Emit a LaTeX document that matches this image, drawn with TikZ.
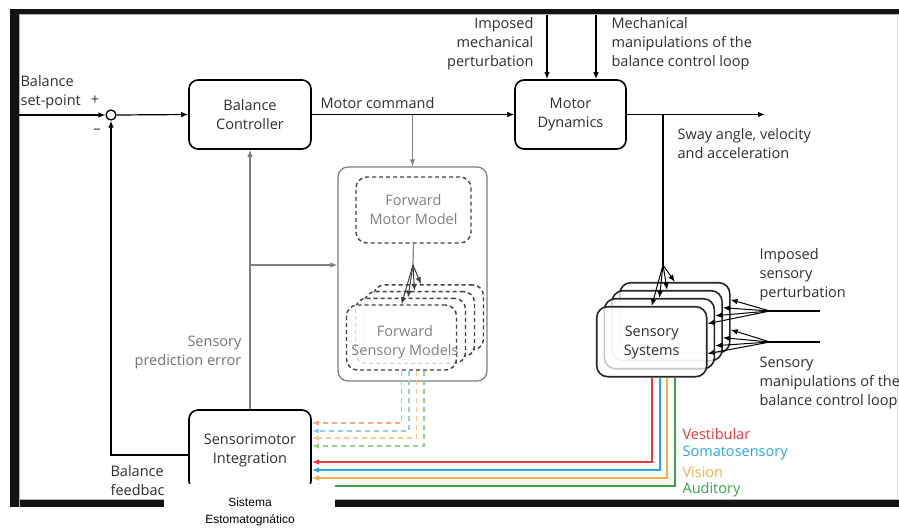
\documentclass[tikz,border=0pt]{standalone}
\usepackage{fontspec}
\setmainfont{Open Sans}
\newfontfamily\arialfont{Liberation Sans}
\usetikzlibrary{arrows.meta}

\definecolor{txtgray}{HTML}{2E2E2E}
\definecolor{fwdgray}{HTML}{808080}
\definecolor{vestred}{HTML}{E8383D}
\definecolor{somablue}{HTML}{2AA6E0}
\definecolor{visorange}{HTML}{F9AE4A}
\definecolor{audgreen}{HTML}{3BA449}
\definecolor{vestlight}{HTML}{F7A68A}
\definecolor{somalight}{HTML}{9CCBEE}
\definecolor{vislight}{HTML}{FBCB8C}
\definecolor{audlight}{HTML}{9ACB96}

\begin{document}
\begin{tikzpicture}[
  x=1pt, y=-1pt,
  font=\fontsize{14.5}{19}\selectfont,
  >={Latex[length=7pt,width=5.5pt]},
  line width=1.2pt,
  every node/.style={text=txtgray},
  block/.style={draw, rounded corners=9pt, line width=1.6pt, align=center, inner sep=0pt},
  lbl/.style={inner sep=0pt, align=left},
  fsmbox/.style={draw=black!75, rounded corners=11pt, line width=1.4pt, dash pattern=on 4pt off 3pt,
    fill=white, fill opacity=0.8, minimum width=110pt, minimum height=65pt},
  ssbox/.style={draw=black!85, rounded corners=11pt, line width=1.6pt,
    fill=white, fill opacity=0.75, minimum width=110pt, minimum height=70pt},
  sensline/.style={line width=1.8pt},
  predline/.style={line width=1.4pt, dash pattern=on 5pt off 4pt}
]
\useasboundingbox (0,0) rectangle (899,530);

% Screen frame
\fill[black!93] (10,9) rectangle (899,14);
\fill[black!93] (10,9) rectangle (19,507);
\fill[black!93] (10,500) rectangle (899,507);
\draw[gray!60, line width=0.8pt] (19.5,507) -- (19.5,14.5) -- (899,14.5);
\draw[gray!60, line width=0.8pt] (19.5,499.5) -- (899,499.5);
\draw[gray!30, line width=0.8pt] (897.5,14) -- (897.5,500);

% Main blocks
\node[block, minimum width=122pt, minimum height=69pt] (bc) at (250,114.5) {Balance\\Controller};
\node[block, minimum width=111pt, minimum height=69pt] (md) at (570.5,114.5) {Motor\\Dynamics};
\node[block, minimum width=122pt, minimum height=80pt] (si) at (250,450) {Sensorimotor\\Integration};
\node[draw, circle, line width=1.3pt, minimum size=10pt, inner sep=0pt, fill=white] (sum) at (111,115) {};

% Forward models
\node[draw=fwdgray, rounded corners=10pt, line width=1.3pt, minimum width=149pt, minimum height=214pt] (fwd) at (412.5,274) {};
\node[draw=black!75, rounded corners=11pt, line width=1.4pt, dash pattern=on 4pt off 3pt,
  minimum width=115pt, minimum height=66pt, align=center, text=fwdgray] (fmm) at (413.5,210) {Forward\\Motor Model};
\foreach \k [evaluate=\k as \cx using 401.5+9*\k, evaluate=\k as \cy using 337.5-6.7*\k] in {3,2,1,0}
  \node[fsmbox] (fsm\k) at (\cx,\cy) {};
\node[align=center, text=fwdgray, inner sep=0pt] (fsmtext) at (405,342) {Forward\\Sensory Models};
\coordinate (fsmfan) at (413,265);
\draw[fwdgray] (fmm.south) -- (fsmfan);
\foreach \k [evaluate=\k as \sh using -2.5*\k] in {0,...,3}
  \draw[->, black!75, line width=1pt] (fsmfan) -- ([xshift=\sh pt]fsm\k.north);

% Sensory systems
\foreach \k [evaluate=\k as \cx using 651.7+7.7*\k, evaluate=\k as \cy using 341.7-8*\k] in {3,2,1,0}
  \node[ssbox] (ss\k) at (\cx,\cy) {};
\node[align=center, inner sep=0pt] (sstext) at (651.7,342) {Sensory\\Systems};

% Forward path
\draw[->] (19,115) -- (sum.west);
\draw[->] (sum.east) -- (bc.west);
\draw[->] (bc.east) -- (md.east -| md.west);
\coordinate (mc) at (fwd.north |- bc.east);
\draw[->, fwdgray] (mc) -- (fwd.north);
\coordinate (out) at (765,114.5);
\draw[->] (md.east) -- (out);

% Perturbations on the motor dynamics
\coordinate (imp1) at (547,15);
\coordinate (imp2) at (596,15);
\draw[->] (imp1) -- (imp1 |- md.north);
\draw[->] (imp2) -- (imp2 |- md.north);

% Body sway to the sensory systems
\coordinate (br) at (663,114.5);
\coordinate (ssfan) at (663,265);
\draw (br) -- (ssfan);
\foreach \k in {0,...,3}
  \draw[->, line width=1pt] (ssfan) -- (ss\k.north);

% Sensory perturbations
\coordinate (spert) at (770,311);
\coordinate (smanip) at (770,342);
\draw (820,311) -- (spert);
\draw (820,342) -- (smanip);
\foreach \k in {0,...,3} {
  \draw[->, line width=1pt] (spert) -- ([yshift=18pt]ss\k.east);
  \draw[->, line width=1pt] (smanip) -- ([yshift=-12pt]ss\k.east);
}

% Sensory channels
\draw[->, sensline, vestred] (ss0.south) |- ([yshift=-12pt]si.east);
\draw[->, sensline, somablue] ([xshift=8pt]ss0.south) |- ([yshift=-20pt]si.east);
\draw[->, sensline, visorange] ([xshift=15.5pt]ss0.south) |- ([yshift=-28pt]si.east);
\draw[->, sensline, audgreen] ([xshift=23pt]ss0.south) |- ([yshift=-36pt]si.east);

% Predicted sensory channels
\draw[->, predline, vestlight] (fsm0.south) |- ([yshift=27pt]si.east);
\draw[->, predline, somalight] ([xshift=7.5pt]fsm0.south) |- ([yshift=19pt]si.east);
\draw[->, predline, vislight] ([xshift=15pt]fsm0.south) |- ([yshift=12pt]si.east);
\draw[->, predline, audlight] ([xshift=22.5pt]fsm0.south) |- ([yshift=4pt]si.east);

% Prediction error and feedback
\draw[->, fwdgray] (si.north) -- (bc.south);
\coordinate (pe) at (250,265);
\draw[->, fwdgray] (pe) -- (pe -| fwd.west);
\draw[->] ([yshift=-5pt]si.west) -| (sum.south);

% Labels
\node[lbl, anchor=west] (setpt) at (20,92) {Balance\\set-point};
\node[inner sep=0pt] (plus) at (95,100) {+};
\node[inner sep=0pt] (minus) at (97,131) {--};
\node[lbl, anchor=west] (mclbl) at (320,103) {Motor command};
\node[lbl, anchor=east, align=right] (implbl) at (534,44) {Imposed\\mechanical\\perturbation};
\node[lbl, anchor=west] (manlbl) at (611,44) {Mechanical\\manipulations of the\\balance control loop};
\node[lbl, anchor=west] (swaylbl) at (677,144) {Sway angle, velocity\\and acceleration};
\node[lbl, anchor=west] (sptlbl) at (759,275) {Imposed\\sensory\\perturbation};
\node[lbl, anchor=west] (smnlbl) at (759,383) {Sensory\\manipulations of the\\balance control loop};
\node[lbl, anchor=east, align=right, text=black!55] (pelbl) at (242,352) {Sensory\\prediction error};
\node[lbl, anchor=west] (fblbl) at (110,481) {Balance\\feedback};
\node[lbl, anchor=west, text=vestred] (vest) at (682,434) {Vestibular};
\node[lbl, anchor=west, text=somablue] (soma) at (682,453) {Somatosensory};
\node[lbl, anchor=west, text=visorange] (vis) at (682,472) {Vision};
\node[lbl, anchor=west, text=audgreen] (aud) at (682,490) {Auditory};

% Caption patch
\fill[white] (164,484) rectangle (335,530);
\node[align=center, inner sep=0pt, text=black, font=\arialfont\fontsize{12}{17}\selectfont] (caption) at (250,512) {Sistema\\Estomatognático};
\end{tikzpicture}
\end{document}
